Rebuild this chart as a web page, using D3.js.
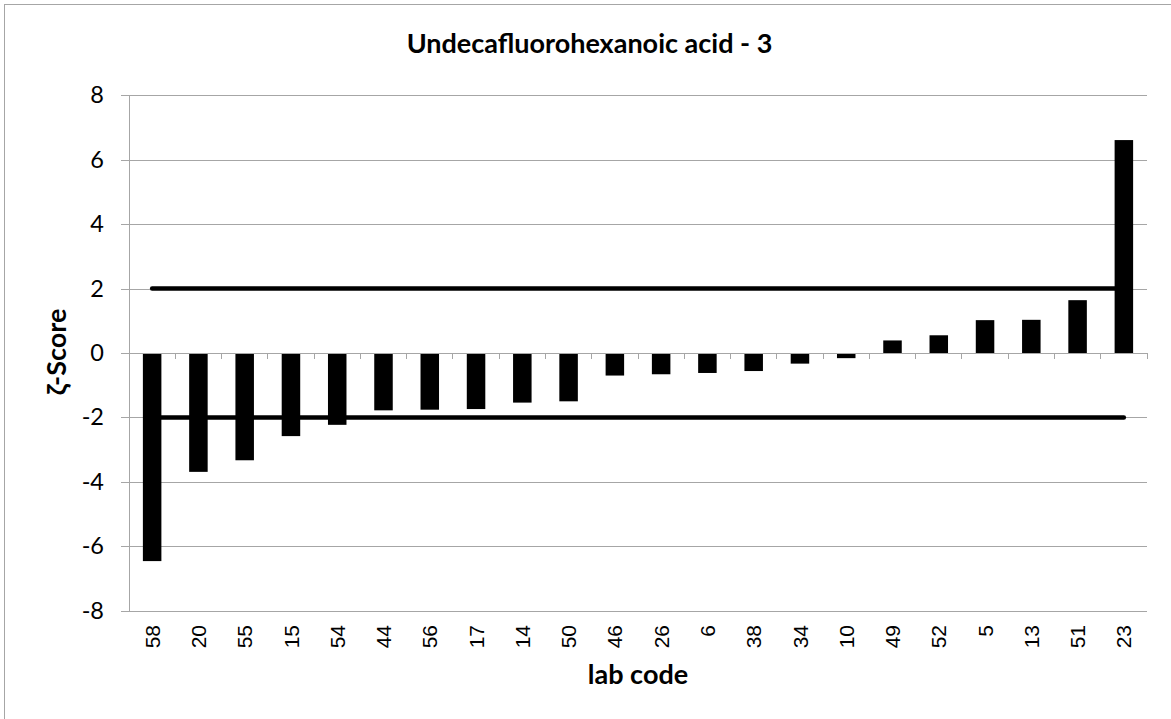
<!DOCTYPE html>
<html>
<head>
<meta charset="utf-8">
<script src="https://cdn.jsdelivr.net/npm/d3@7"></script>
<style>
  html, body { margin: 0; padding: 0; background: #fff; }
  svg { display: block; }
</style>
</head>
<body>
<svg id="chart" width="1171" height="719"></svg>
<script>
const title = "Undecafluorohexanoic acid - 3";
const yLabel = "ζ-Score";
const xLabel = "lab code";
const labCodes = ["58","20","55","15","54","44","56","17","14","50","46","26","6","38","34","10","49","52","5","13","51","23"];
const zScores = [-6.46,-3.69,-3.33,-2.58,-2.23,-1.78,-1.76,-1.74,-1.54,-1.50,-0.70,-0.66,-0.62,-0.56,-0.33,-0.16,0.39,0.55,1.02,1.03,1.64,6.61];
const upperLimit = [2];
const lowerLimit = [-2];
const yTicks = [-8,-6,-4,-2,0,2,4,6,8];

const svg = d3.select("#chart");
const W = 1171, H = 719;
const plot = {left: 129, right: 1147, top: 95.3, bottom: 610.7};
const gridColor = "#a6a6a6";

// outer chart border
svg.append("rect").attr("x", 4.5).attr("y", 4.5).attr("width", W + 10).attr("height", H + 10)
  .attr("fill", "#fff").attr("stroke", gridColor).attr("stroke-width", 1);

const x = d3.scaleBand().domain(labCodes).range([plot.left, plot.right]).padding(0);
const y = d3.scaleLinear().domain([-8, 8]).range([plot.bottom, plot.top]);

// y axis with gridlines
const yAxis = d3.axisLeft(y).tickValues(yTicks).tickSize(8).tickPadding(17)
  .tickFormat(d => d < 0 ? "-" + Math.abs(d) : String(d));
const gy = svg.append("g").attr("transform", `translate(${plot.left},0)`).call(yAxis);
gy.select(".domain").remove();
gy.selectAll(".tick line").attr("stroke", gridColor).attr("x2", -8)
  .attr("shape-rendering", "crispEdges");
gy.selectAll(".tick").append("line")
  .attr("x1", 0).attr("x2", plot.right - plot.left)
  .attr("stroke", gridColor).attr("shape-rendering", "crispEdges");
gy.selectAll(".tick text").attr("font-family", "Lato, 'Open Sans', sans-serif")
  .attr("font-size", 23.5).attr("fill", "#000");

// y axis line
svg.append("line").attr("x1", plot.left).attr("x2", plot.left)
  .attr("y1", plot.top).attr("y2", plot.bottom)
  .attr("stroke", gridColor).attr("shape-rendering", "crispEdges");

// bars
const barW = x.bandwidth() * 0.4;
svg.append("g").selectAll("rect").data(labCodes).join("rect")
  .attr("x", (d) => x(d) + (x.bandwidth() - barW) / 2)
  .attr("width", barW)
  .attr("y", (d, i) => Math.min(y(zScores[i]), y(0)))
  .attr("height", (d, i) => Math.abs(y(zScores[i]) - y(0)))
  .attr("fill", "#000");

// x axis at zero with tick marks at category boundaries
svg.append("line").attr("x1", plot.left).attr("x2", plot.right)
  .attr("y1", y(0)).attr("y2", y(0)).attr("stroke", gridColor)
  .attr("shape-rendering", "crispEdges");
svg.append("g").selectAll("line").data(labCodes).join("line")
  .attr("x1", d => x(d) + x.bandwidth()).attr("x2", d => x(d) + x.bandwidth())
  .attr("y1", y(0)).attr("y2", y(0) + 6)
  .attr("stroke", gridColor).attr("shape-rendering", "crispEdges");

// limit lines
const lineGen = d3.line().x(d => x(d.code) + x.bandwidth() / 2).y(d => y(d.v));
[upperLimit[0], lowerLimit[0]].forEach(v => {
  svg.append("path")
    .datum(labCodes.map(c => ({code: c, v: v})))
    .attr("d", lineGen).attr("fill", "none")
    .attr("stroke", "#000").attr("stroke-width", 4.5).attr("stroke-linecap", "round");
});

// category labels at bottom, rotated
svg.append("g").selectAll("text").data(labCodes).join("text")
  .attr("transform", d => `translate(${x(d) + x.bandwidth() / 2},${625}) rotate(-90)`)
  .attr("text-anchor", "end").attr("dy", "0.36em")
  .attr("font-family", "'Liberation Sans', Arial, sans-serif")
  .attr("font-size", 21).attr("fill", "#000")
  .text(d => d);

// title
svg.append("text").attr("x", 589.5).attr("y", 53).attr("text-anchor", "middle")
  .attr("font-family", "Lato, 'Open Sans', sans-serif").attr("font-weight", "bold")
  .attr("font-size", 27).attr("fill", "#000").text(title);

// axis titles
svg.append("text").attr("transform", `translate(66,352) rotate(-90)`)
  .attr("text-anchor", "middle")
  .attr("font-family", "Lato, 'Open Sans', sans-serif").attr("font-weight", "bold")
  .attr("font-size", 27).attr("fill", "#000").text(yLabel);

svg.append("text").attr("x", 638).attr("y", 684).attr("text-anchor", "middle")
  .attr("font-family", "Lato, 'Open Sans', sans-serif").attr("font-weight", "bold")
  .attr("font-size", 27).attr("fill", "#000").text(xLabel);
</script>
</body>
</html>
